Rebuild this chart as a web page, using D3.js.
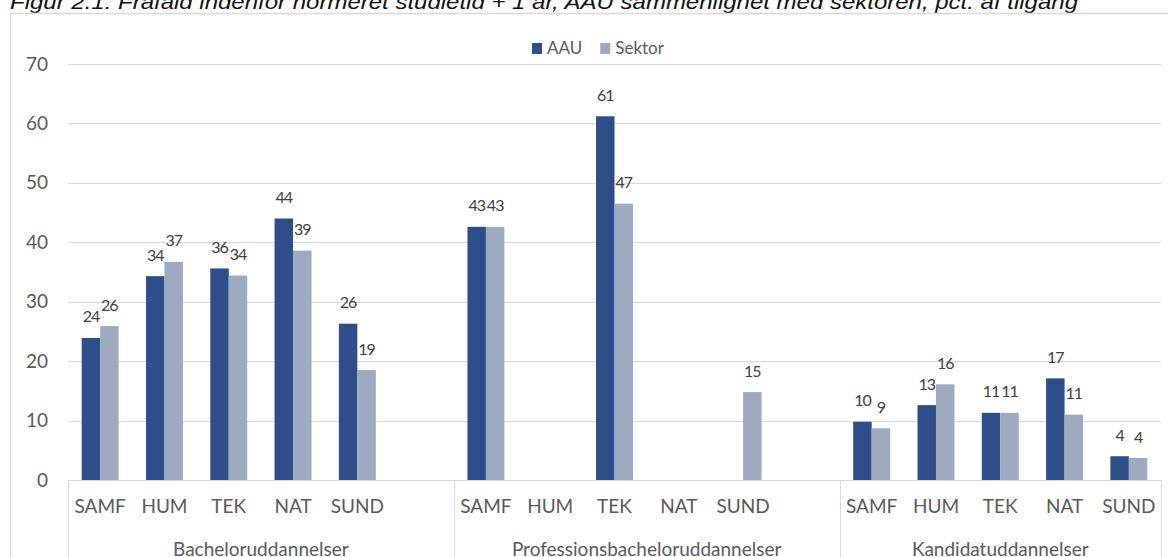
<!DOCTYPE html>
<html>
<head>
<meta charset="utf-8">
<script src="https://cdn.jsdelivr.net/npm/d3@7"></script>
<style>
  body { margin: 0; background: #fff; }
  svg { display: block; }
  .axis path, .axis line { display: none; }
  .y-axis text { font-family: Lato, sans-serif; font-size: 19px; fill: #595959; }
  .x-axis text { font-family: Lato, sans-serif; font-size: 19px; fill: #595959; }
  .label { font-family: Lato, sans-serif; font-size: 16px; letter-spacing: -1px; fill: #404040; text-anchor: middle; }
  .legend text { font-family: Lato, sans-serif; font-size: 17px; fill: #595959; }
</style>
</head>
<body>
<div id="chart"></div>
<script>

// chart values
var titleText = "Figur 2.1: Frafald indenfor normeret studietid + 1 år, AAU sammenlignet med sektoren, pct. af tilgang";
var groups = ["Bacheloruddannelser", "Professionsbacheloruddannelser", "Kandidatuddannelser"];
var fields = ["SAMF", "HUM", "TEK", "NAT", "SUND"];
var series = ["AAU", "Sektor"];
var aauValues = [
    [23.9, 34.3, 35.6, 44.0, 26.3],
    [42.6, null, 61.2, null, null],
    [9.8, 12.6, 11.3, 17.1, 4.0]
];
var sektorValues = [
    [25.9, 36.7, 34.4, 38.6, 18.5],
    [42.6, null, 46.5, null, 14.8],
    [8.7, 16.1, 11.3, 11.0, 3.7]
];
var yTicks = [0, 10, 20, 30, 40, 50, 60, 70];

var colors = { "AAU": "#2d4e89", "Sektor": "#9eaac0" };

var width = 1168, height = 557;
var margin = { top: 64, right: 7, bottom: 77, left: 68 };
var innerW = width - margin.left - margin.right,
    innerH = height - margin.top - margin.bottom;

var svg = d3.select("#chart").append("svg")
    .attr("width", width)
    .attr("height", height);

// title (partly above the page edge, as in the source)
svg.append("text")
    .attr("x", 10)
    .attr("y", 9)
    .attr("textLength", 1068)
    .attr("lengthAdjust", "spacingAndGlyphs")
    .style("font-family", "'Liberation Sans', Arial, sans-serif")
    .style("font-style", "italic")
    .style("font-size", "21px")
    .style("fill", "#111")
    .text(titleText);

// outer chart frame
svg.append("rect")
    .attr("x", 10.5)
    .attr("y", 13.5)
    .attr("width", 1170)
    .attr("height", 560)
    .attr("fill", "none")
    .attr("stroke", "#d9d9d9")
    .attr("stroke-width", 1.5);

var g = svg.append("g")
    .attr("transform", "translate(" + margin.left + "," + margin.top + ")");

// categories: each group gets the 5 fields, the first two groups also a blank slot
var keys = [];
var rows = [];
groups.forEach(function(grp, gi) {
    fields.forEach(function(f, fi) {
        var key = gi + "|" + f;
        keys.push(key);
        rows.push({ key: key, group: gi, AAU: aauValues[gi][fi], Sektor: sektorValues[gi][fi] });
    });
    if (gi < groups.length - 1) keys.push(gi + "|");
});

var x = d3.scaleBand()
    .domain(keys)
    .range([0, innerW]);

var x1 = d3.scaleBand()
    .domain(series)
    .range([0, x.bandwidth()])
    .paddingOuter(0.74);

var y = d3.scaleLinear()
    .domain([0, 70])
    .range([innerH, 0]);

// gridlines
g.append("g").selectAll("line")
    .data(yTicks)
    .enter().append("line")
    .attr("x1", 0)
    .attr("x2", innerW)
    .attr("y1", function(d) { return Math.round(y(d)) + 0.5; })
    .attr("y2", function(d) { return Math.round(y(d)) + 0.5; })
    .attr("stroke", "#d9d9d9")
    .attr("stroke-width", 1);

// y axis
g.append("g")
    .attr("class", "y-axis axis")
    .call(d3.axisLeft(y).tickValues(yTicks).tickSize(0).tickPadding(20));

// bars
var barData = [];
rows.forEach(function(r) {
    series.forEach(function(s) {
        if (r[s] !== null) barData.push({ key: r.key, series: s, value: r[s] });
    });
});

g.append("g").selectAll("rect")
    .data(barData)
    .enter().append("rect")
    .attr("x", function(d) { return x(d.key) + x1(d.series); })
    .attr("width", x1.bandwidth())
    .attr("y", function(d) { return y(d.value); })
    .attr("height", function(d) { return y(0) - y(d.value); })
    .attr("fill", function(d) { return colors[d.series]; });

// data labels
g.append("g").selectAll("text")
    .data(barData)
    .enter().append("text")
    .attr("class", "label")
    .attr("x", function(d) { return x(d.key) + x1(d.series) + x1.bandwidth() / 2; })
    .attr("y", function(d) { return y(d.value) - 15.5; })
    .text(function(d) { return Math.round(d.value); });

// category axis line and group separators
g.append("line")
    .attr("x1", 0).attr("x2", innerW)
    .attr("y1", innerH + 0.5).attr("y2", innerH + 0.5)
    .attr("stroke", "#d9d9d9");

var groupBounds = groups.map(function(grp, gi) {
    var own = keys.filter(function(k) { return k.split("|")[0] == gi; });
    var start = x(own[0]);
    var end = x(own[own.length - 1]) + x.bandwidth();
    return { name: grp, start: start, end: end };
});

var sepX = [0].concat(groupBounds.map(function(b) { return b.end; }));
g.append("g").selectAll("line")
    .data(sepX)
    .enter().append("line")
    .attr("x1", function(d) { return Math.round(d) + 0.5; })
    .attr("x2", function(d) { return Math.round(d) + 0.5; })
    .attr("y1", innerH)
    .attr("y2", innerH + 90)
    .attr("stroke", "#d9d9d9");

// field labels
g.append("g")
    .attr("class", "x-axis axis")
    .attr("transform", "translate(0," + innerH + ")")
    .call(d3.axisBottom(x).tickSize(0).tickPadding(19.5)
        .tickFormat(function(d) { return d.split("|")[1]; }));

// group labels
g.append("g").selectAll("text")
    .data(groupBounds)
    .enter().append("text")
    .attr("x", function(d) { return (d.start + d.end) / 2; })
    .attr("y", innerH + 76)
    .attr("text-anchor", "middle")
    .style("font-family", "Lato, sans-serif")
    .style("font-size", "19px")
    .style("fill", "#595959")
    .text(function(d) { return d.name; });

// legend
var legend = svg.append("g")
    .attr("class", "legend")
    .attr("transform", "translate(532,54)");

var lx = 0;
series.forEach(function(s) {
    var item = legend.append("g").attr("transform", "translate(" + lx + ",0)");
    item.append("rect")
        .attr("x", 0).attr("y", -11)
        .attr("width", 10).attr("height", 11)
        .attr("fill", colors[s]);
    var t = item.append("text")
        .attr("x", 15)
        .attr("y", 0)
        .text(s);
    lx += 15 + t.node().getComputedTextLength() + 18;
});

</script>
</body>
</html>
